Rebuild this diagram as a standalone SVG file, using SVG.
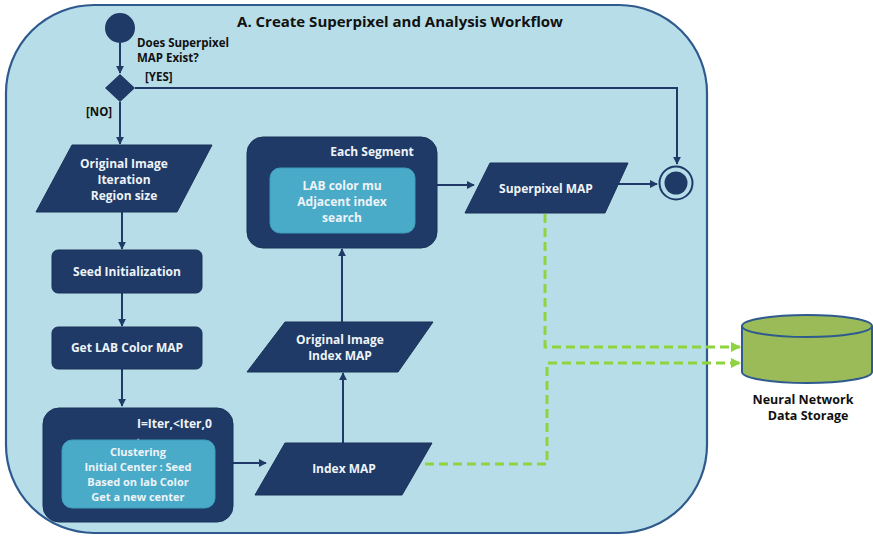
<svg xmlns="http://www.w3.org/2000/svg" width="873" height="536" viewBox="0 0 873 536">
  <defs>
    <style>
      .frame { fill: #b7dee8; stroke: #2e5a8e; stroke-width: 2.2; }
      .node { fill: #1f3a66; stroke: #1a3158; stroke-width: 1; }
      .inner { fill: #4aabc9; stroke: #3f9cbc; stroke-width: 1; }
      .flow { fill: none; stroke: #1f3a66; stroke-width: 2; }
      .data { fill: none; stroke: #8ed43f; stroke-width: 3; stroke-dasharray: 9 5; }
      .t { font-family: "Open Sans", "Noto Sans", "DejaVu Sans", sans-serif; font-weight: bold; }
      .w { fill: #eef3f8; font-size: 12px; text-anchor: middle; }
      .s { font-size: 11px; }
      .k { fill: #111; font-size: 11.5px; }
    </style>
    <marker id="ah" viewBox="0 0 10 10" refX="9" refY="5" markerWidth="4" markerHeight="4" orient="auto">
      <path d="M0,0 L10,5 L0,10 z" fill="#1f3a66"/>
    </marker>
    <marker id="ag" viewBox="0 0 10 10" refX="9" refY="5" markerWidth="3.5" markerHeight="3.5" orient="auto">
      <path d="M0,0 L10,5 L0,10 z" fill="#8ed43f"/>
    </marker>
  </defs>

  <!-- workflow frame -->
  <g id="workflow">
    <rect class="frame" x="6" y="5" width="701" height="528" rx="88" ry="88"/>
    <text class="t" x="400" y="27" font-size="15" text-anchor="middle" fill="#111">A. Create  Superpixel and Analysis Workflow</text>
  </g>

  <!-- connectors -->
  <g id="connectors">
    <path class="flow" d="M120,43 V73" marker-end="url(#ah)"/>
    <path class="flow" d="M135,88 H677 V164" marker-end="url(#ah)"/>
    <path class="flow" d="M120,102 V144" marker-end="url(#ah)"/>
    <path class="flow" d="M122,212 V249" marker-end="url(#ah)"/>
    <path class="flow" d="M122,293 V326" marker-end="url(#ah)"/>
    <path class="flow" d="M122,369 V406" marker-end="url(#ah)"/>
    <path class="flow" d="M233,463 H266" marker-end="url(#ah)"/>
    <path class="flow" d="M343,443 V373" marker-end="url(#ah)"/>
    <path class="flow" d="M342,322 V249" marker-end="url(#ah)"/>
    <path class="flow" d="M437,185 H474" marker-end="url(#ah)"/>
    <path class="flow" d="M618,184 H657" marker-end="url(#ah)"/>
    <path class="data" d="M545,214 V347 H740" marker-end="url(#ag)"/>
    <path class="data" d="M425,464 H547 V363 H740" marker-end="url(#ag)"/>
    <text class="t k" x="137" y="47">Does Superpixel</text>
    <text class="t k" x="137" y="62">MAP Exist?</text>
    <text class="t k" x="145" y="81" font-size="11">[YES]</text>
    <text class="t k" x="86" y="116" font-size="11">[NO]</text>
  </g>

  <g id="start">
    <circle cx="120" cy="28" r="15" fill="#1f3a66"/>
  </g>

  <g id="decision">
    <path d="M120,74 L135,88 L120,102 L105,88 z" fill="#1f3a66"/>
  </g>

  <g id="input">
    <path class="node" d="M72,145 H212 L177,212 H36 z"/>
    <text class="t w" x="124" y="168">Original Image</text>
    <text class="t w" x="124" y="184">Iteration</text>
    <text class="t w" x="124" y="200">Region size</text>
  </g>

  <g id="seed-init">
    <rect class="node" x="52" y="250" width="150" height="43" rx="6"/>
    <text class="t w" x="127" y="276">Seed  Initialization</text>
  </g>

  <g id="lab-map">
    <rect class="node" x="52" y="327" width="150" height="42" rx="6"/>
    <text class="t w" x="127" y="352">Get LAB Color MAP</text>
  </g>

  <g id="clustering">
    <rect class="node" x="43" y="408" width="190" height="114" rx="16"/>
    <text class="t" x="137" y="428" font-size="12" fill="#eef3f8">I=Iter,&lt;Iter,0</text>
    <text class="t" x="137" y="440" font-size="8" fill="#eef3f8">,</text>
    <rect class="inner" x="62" y="440" width="153" height="68" rx="10"/>
    <text class="t w s" x="138" y="456">Clustering</text>
    <text class="t w s" x="138" y="471">Initial Center : Seed</text>
    <text class="t w s" x="138" y="486">Based on lab Color</text>
    <text class="t w s" x="138" y="501">Get a  new center</text>
  </g>

  <g id="index-map">
    <path class="node" d="M285,443 H432 L402,495 H255 z"/>
    <text class="t w" x="344" y="473">Index MAP</text>
  </g>

  <g id="image-index-map">
    <path class="node" d="M285,322 H433 L398,372 H247 z"/>
    <text class="t w" x="340" y="344">Original Image</text>
    <text class="t w" x="340" y="360">Index MAP</text>
  </g>

  <g id="each-segment">
    <rect class="node" x="247" y="137" width="190" height="111" rx="16"/>
    <text class="t w" x="372" y="156">Each Segment</text>
    <rect class="inner" x="270" y="168" width="145" height="65" rx="10"/>
    <text class="t w" x="342" y="190">LAB color  mu</text>
    <text class="t w" x="342" y="206">Adjacent index</text>
    <text class="t w" x="342" y="222">search</text>
  </g>

  <g id="superpixel-map">
    <path class="node" d="M490,163 H628 L605,213 H465 z"/>
    <text class="t w" x="546" y="193">Superpixel   MAP</text>
  </g>

  <g id="end">
    <circle cx="676" cy="183" r="16.5" fill="none" stroke="#1f3a66" stroke-width="2"/>
    <circle cx="676" cy="183" r="11.5" fill="#1f3a66"/>
  </g>

  <g id="storage">
    <path d="M742,326 V372 A65,11 0 0 0 872,372 V326" fill="#9bbb59" stroke="#2e5a8e" stroke-width="2"/>
    <ellipse cx="807" cy="326" rx="65" ry="11" fill="#9bbb59" stroke="#2e5a8e" stroke-width="2"/>
    <text class="t" x="803" y="404" font-size="12.5" text-anchor="middle" fill="#111">Neural Network</text>
    <text class="t" x="808" y="420" font-size="12.5" text-anchor="middle" fill="#111">Data Storage</text>
  </g>
</svg>
